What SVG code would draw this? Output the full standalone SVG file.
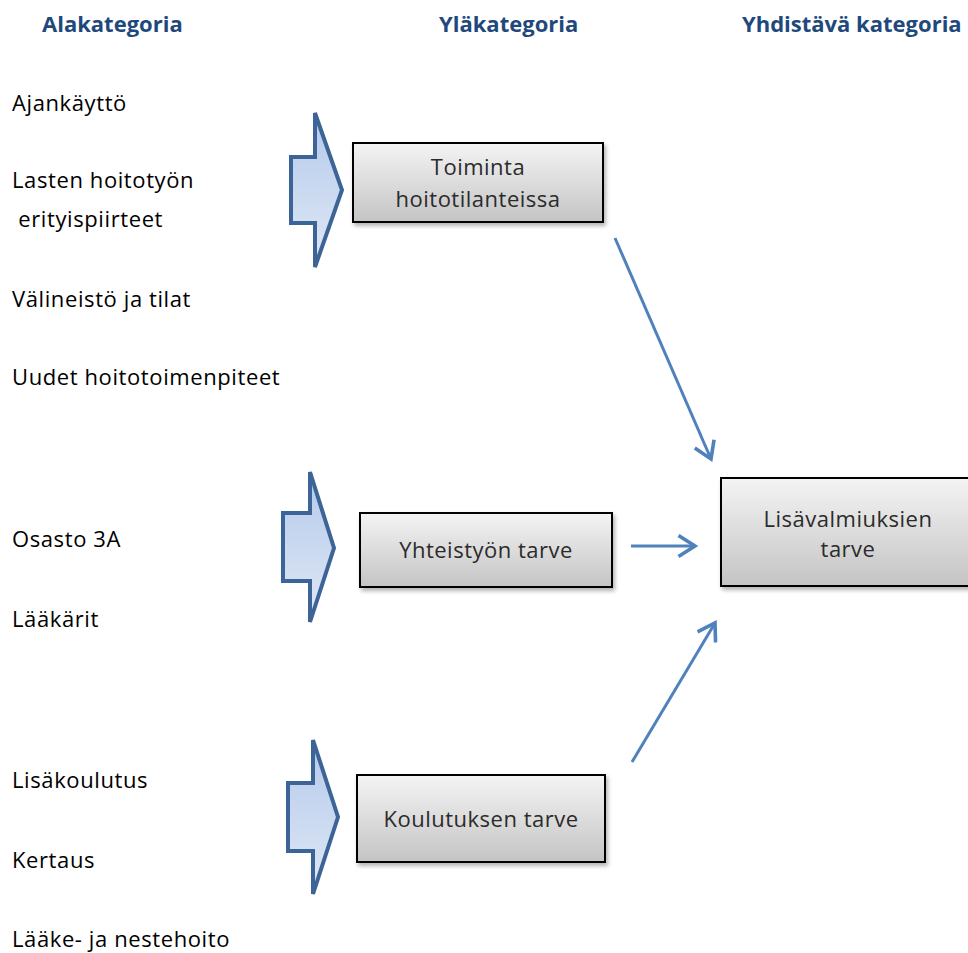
<svg xmlns="http://www.w3.org/2000/svg" width="968" height="953" viewBox="0 0 968 953">
<style>
.hdr{font-family:"Open Sans","Liberation Sans",sans-serif;font-weight:bold;font-size:22px;fill:#1f497d}
.lbl{font-family:"Open Sans","Liberation Sans",sans-serif;font-size:22px;letter-spacing:0.6px;fill:#000}
.box{fill:url(#gb);stroke:#000;stroke-width:2;filter:url(#sh)}
.btx{font-family:"Open Sans","Liberation Sans",sans-serif;font-size:22px;letter-spacing:0.5px;fill:#2b2b2b;text-anchor:middle}
.barrow{fill:url(#ga);stroke:#3d6496;stroke-width:4;stroke-linejoin:miter}
.con{stroke:#4f81bd;stroke-width:3;fill:none;marker-end:url(#ah)}
</style>
<defs>
<linearGradient id="gb" x1="0" y1="0" x2="0" y2="1">
<stop offset="0" stop-color="#f4f4f4"/>
<stop offset="1" stop-color="#c4c4c4"/>
</linearGradient>
<linearGradient id="ga" x1="0" y1="0" x2="0" y2="1">
<stop offset="0" stop-color="#b4c9ea"/>
<stop offset="1" stop-color="#e0e9f6"/>
</linearGradient>
<filter id="sh" x="-10%" y="-10%" width="130%" height="140%">
<feDropShadow dx="2" dy="3" stdDeviation="2" flood-color="#000" flood-opacity="0.3"/>
</filter>
<marker id="ah" markerWidth="8" markerHeight="8" refX="6" refY="4" orient="auto" markerUnits="strokeWidth" viewBox="0 0 8 8">
<path d="M0.5,0.5 L6,4 L0.5,7.5" fill="none" stroke="#4f81bd" stroke-width="1.2"/>
</marker>
</defs>

<g id="headers">
<text class="hdr" x="42" y="32">Alakategoria</text>
<text class="hdr" x="439" y="32">Yläkategoria</text>
<text class="hdr" x="742" y="32">Yhdistävä kategoria</text>
</g>

<g id="subcategories">
<text class="lbl" x="12" y="111">Ajankäyttö</text>
<text class="lbl" x="12" y="188">Lasten hoitotyön</text>
<text class="lbl" x="12" y="227" xml:space="preserve"> erityispiirteet</text>
<text class="lbl" x="12" y="307">Välineistö ja tilat</text>
<text class="lbl" x="12" y="385">Uudet hoitotoimenpiteet</text>
<text class="lbl" x="12" y="547">Osasto 3A</text>
<text class="lbl" x="12" y="627">Lääkärit</text>
<text class="lbl" x="12" y="788">Lisäkoulutus</text>
<text class="lbl" x="12" y="868">Kertaus</text>
<text class="lbl" x="12" y="947">Lääke- ja nestehoito</text>
</g>

<g id="blockarrow1"><path class="barrow" d="M291,157 L315,157 L315,113 L342,190 L315,267 L315,223 L291,223 Z"/></g>
<g id="blockarrow2"><path class="barrow" d="M283,513 L310,513 L310,472 L334,548 L310,622 L310,581 L283,581 Z"/></g>
<g id="blockarrow3"><path class="barrow" d="M288,783 L313,783 L313,740 L338,817 L313,894 L313,851 L288,851 Z"/></g>

<g id="node-toiminta">
<rect class="box" x="353" y="143" width="250" height="79"/>
<text class="btx" x="478" y="175">Toiminta</text>
<text class="btx" x="478" y="207">hoitotilanteissa</text>
</g>
<g id="node-yhteistyo">
<rect class="box" x="360" y="513" width="252" height="74"/>
<text class="btx" x="486" y="558">Yhteistyön tarve</text>
</g>
<g id="node-koulutus">
<rect class="box" x="357" y="775" width="248" height="87"/>
<text class="btx" x="481" y="827">Koulutuksen tarve</text>
</g>
<g id="node-lisavalmiudet">
<rect class="box" x="721" y="478" width="252" height="108"/>
<text class="btx" x="848" y="527">Lisävalmiuksien</text>
<text class="btx" x="848" y="557">tarve</text>
</g>

<g id="connectors">
<line class="con" x1="615" y1="238" x2="711" y2="459"/>
<line class="con" x1="631" y1="546" x2="695" y2="546"/>
<line class="con" x1="632" y1="762" x2="715" y2="623"/>
</g>
</svg>
